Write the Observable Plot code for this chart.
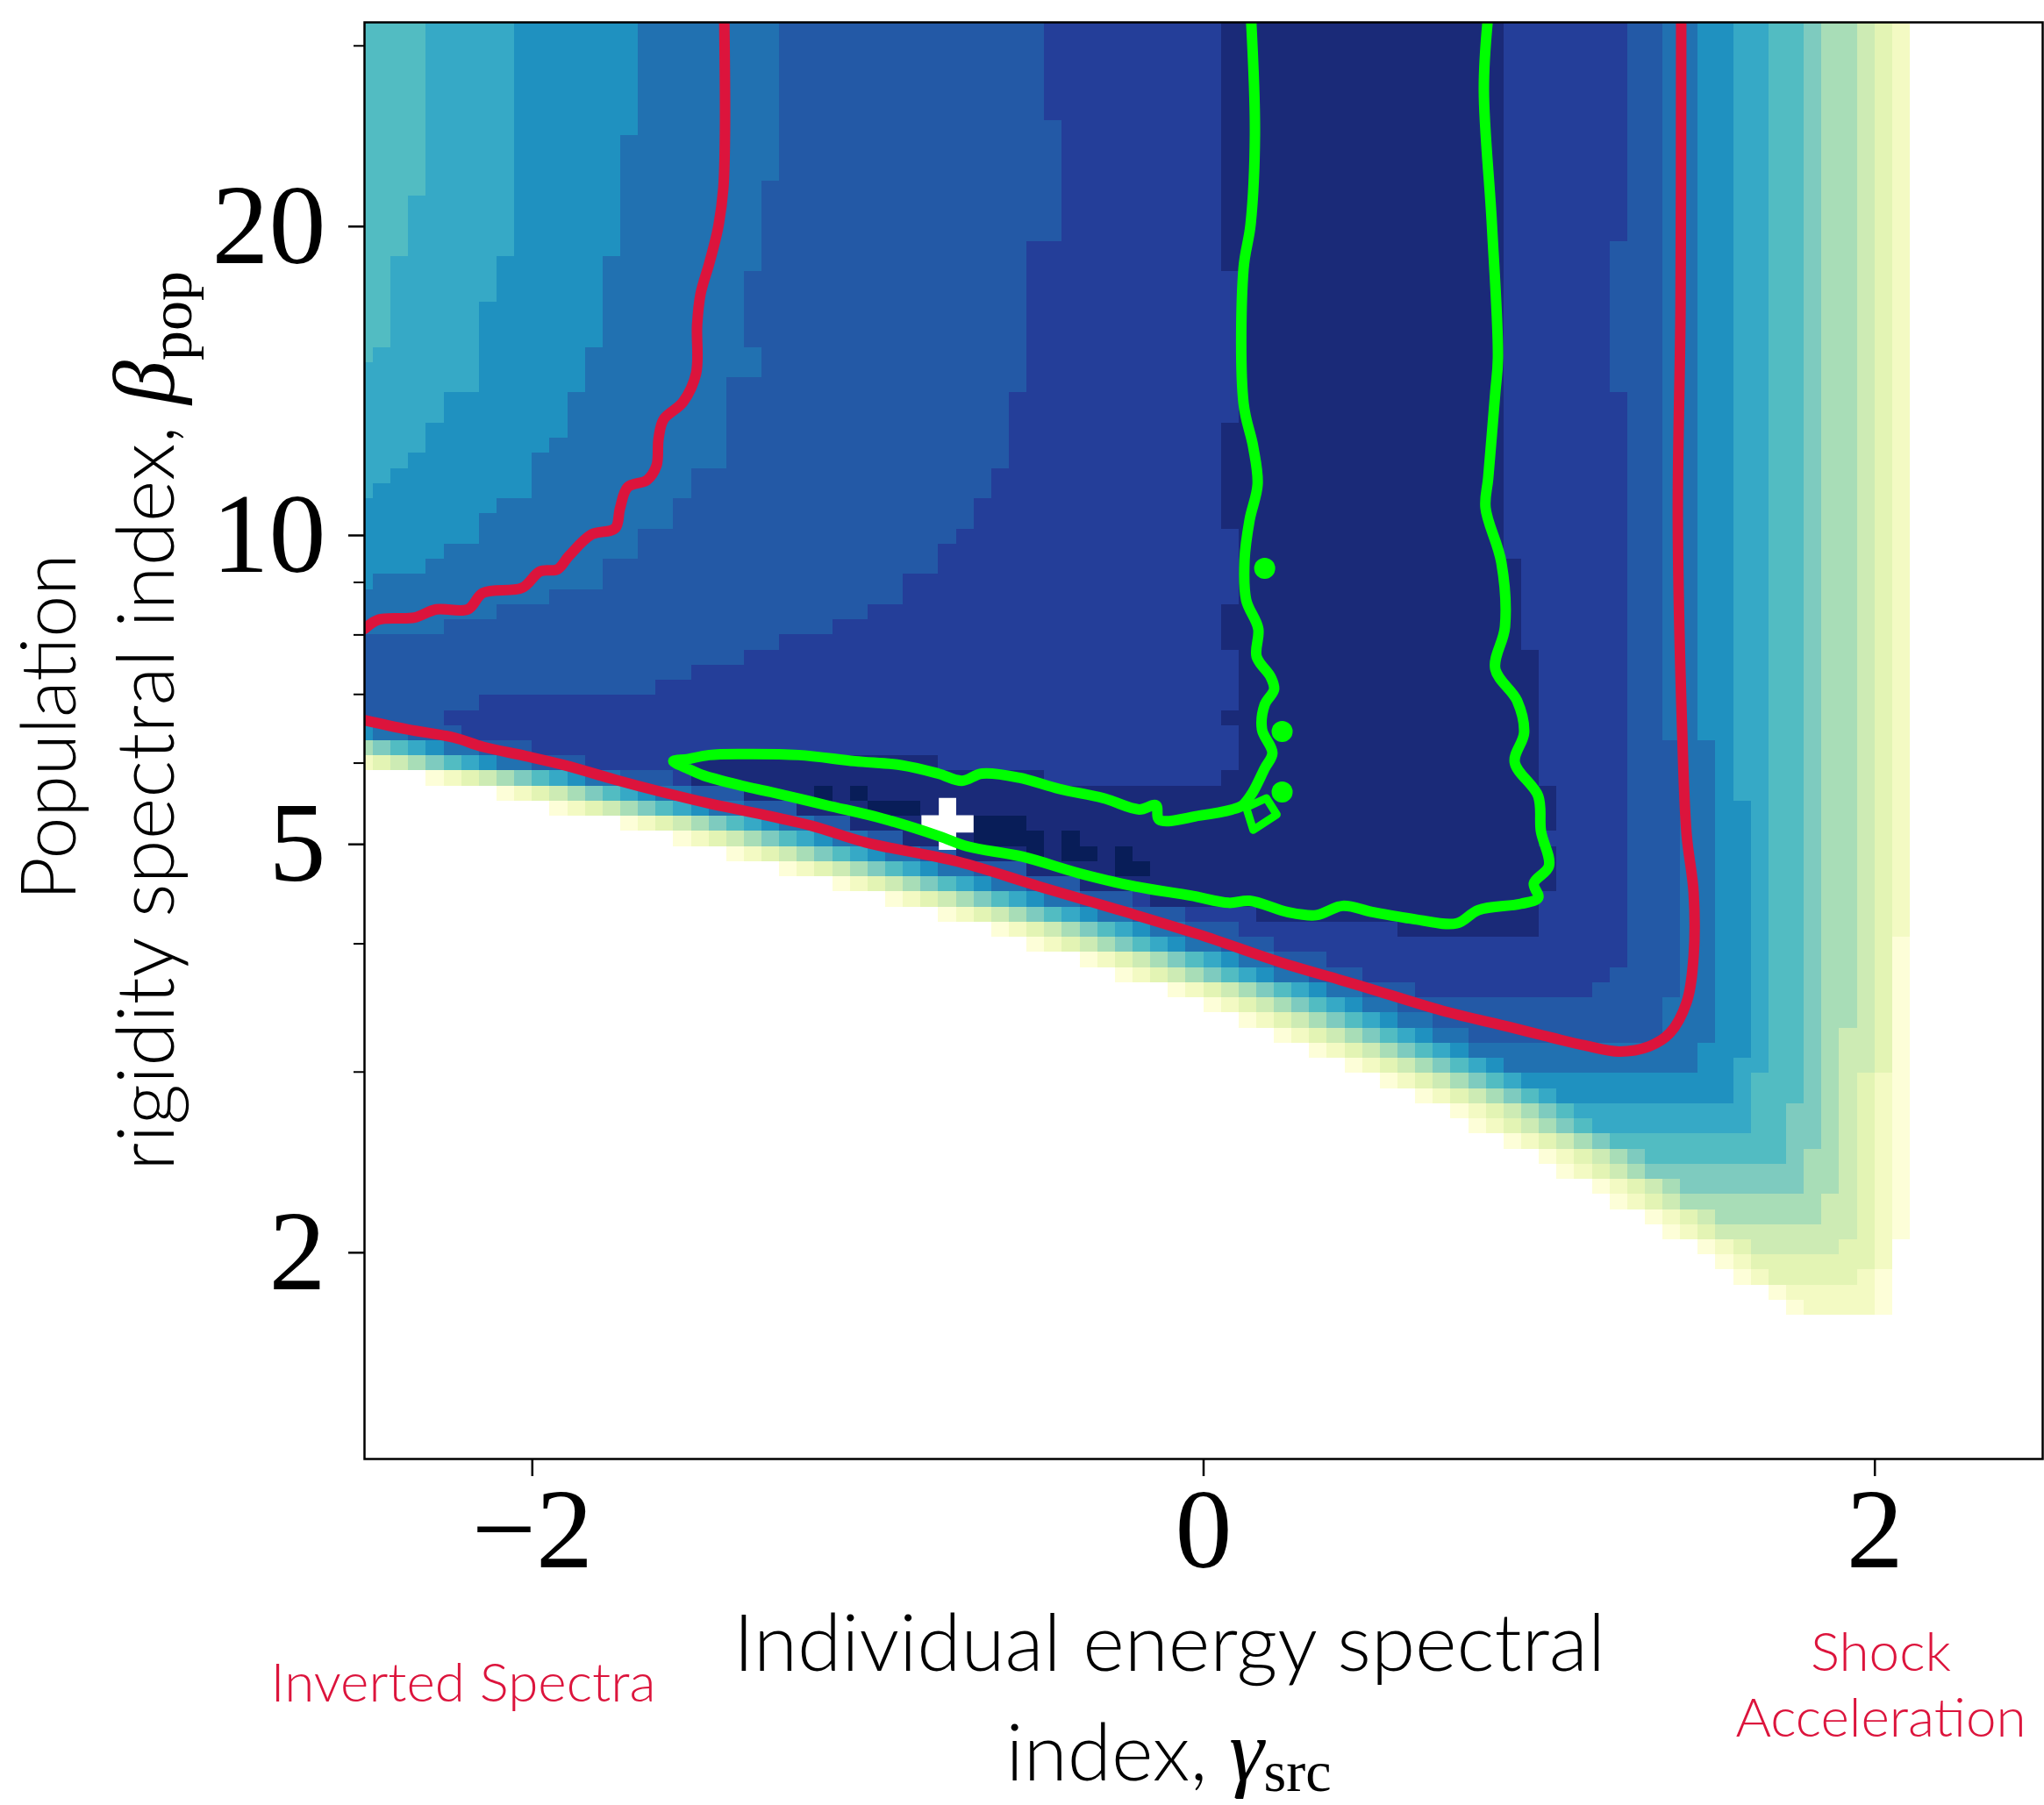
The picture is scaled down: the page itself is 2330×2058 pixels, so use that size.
<!DOCTYPE html>
<html>
<head>
<meta charset="utf-8">
<script src="https://cdn.jsdelivr.net/npm/d3@7"></script>
<script src="https://cdn.jsdelivr.net/npm/@observablehq/plot@0.6"></script>
<style>
html,body{margin:0;padding:0;background:#fff;overflow:hidden;}
#fig{position:relative;width:2330px;height:2058px;overflow:hidden;background:#fff;}
#chart{position:absolute;left:0;top:0;}
#labels{position:absolute;left:0;top:0;}
</style>
</head>
<body>
<div id="fig">
  <div id="chart"></div>
  <svg id="labels" width="2330" height="2058" xmlns="http://www.w3.org/2000/svg">
    <g font-family="Lato, 'Open Sans', sans-serif" font-weight="300" fill="#000">
      <text transform="translate(86,829) rotate(-90)" text-anchor="middle" font-size="86">Population</text>
      <text transform="translate(198,822) rotate(-90)" text-anchor="middle" font-size="91">rigidity spectral index, <tspan font-family="'Liberation Serif', serif" font-style="italic" font-weight="400" font-size="100">β</tspan><tspan font-family="'Liberation Serif', serif" font-weight="400" font-size="68" dy="20">pop</tspan></text>
      <text x="1333" y="1905" text-anchor="middle" font-size="91">Individual energy spectral</text>
      <text x="1332" y="2030" text-anchor="middle" font-size="91">index, <tspan font-family="'Liberation Serif', serif" font-style="italic" font-weight="400" font-size="100">γ</tspan><tspan font-family="'Liberation Serif', serif" font-weight="400" font-size="66" dy="12">src</tspan></text>
    </g>
    <g font-family="Lato, 'Open Sans', sans-serif" font-weight="300" fill="#dc143c" font-size="62" text-anchor="middle">
      <text x="528" y="1940">Inverted Spectra</text>
      <text x="2144" y="1905">Shock</text>
      <text x="2144" y="1980">Acceleration</text>
    </g>
  </svg>
</div>
<script>
// ---------- colour levels of the map (0 = best, darkest) ----------
const levelColors = ["#081d58","#1a2a78","#243e99","#2359a6","#2171b1","#1f91c0","#36a9c6","#52bcc2","#7ecbbf","#a8ddb7","#cdebb4","#e3f4b4","#f3fac3","#fdfed8"];

// ---------- the 96 x 96 grid of the map ----------
const gammaRange = [-2.5, 2.5];          // first / last column centre
const log10BetaRange = [1.5, 0.1];       // top row / bottom row centre
const nCells = 96;

// lower-left edge of the coloured area: first coloured column of rows 44..85
const edgeFirstRow = 44;
const edgeStartCol = [-19,-15,-11,-8,-4,-1,
  4,8,11,15,18,21,24,27,30,33,36,38,41,43,46,48,50,52,54,56,58,60,62,63,65,67,68,70,71,73,74,76,77,78,80,81];

// each level region starts this many cells to the right of that edge
const levelOffset = {13:0, 12:1, 11:2, 10:3, 9:4, 8:5, 7:6, 6:7, 5:8, 4:9, 3:11, 2:14};
// last row reached by each level region
const levelLastRow = {13:85, 12:85, 11:83, 10:81, 9:79, 8:77, 7:75, 6:73, 5:71, 4:69, 3:67, 2:64};
// right-most column of each level region: [from row, column]
const levelRightCol = {
  13: [[0,87],[81,86]],
  12: [[0,87],[61,86],[83,85]],
  11: [[0,86],[70,85],[83,84]],
  10: [[0,85],[70,84],[81,83]],
  9:  [[0,84],[67,83],[78,82]],
  8:  [[0,82],[75,81]],
  7:  [[0,81],[72,80]],
  6:  [[0,79],[70,78]],
  5:  [[0,77],[52,78],[69,77]],
  4:  [[0,75],[48,76],[68,75]],
  3:  [[0,73],[48,74],[65,73]],
  2:  [[0,71],[15,70],[25,71],[63,70],[64,69]]
};
// left-most column of the upper-left staircases: [from row, column]
const levelLeftCol = {
  6: [[0,4],[12,3],[16,2],[22,1],[23,0]],
  5: [[0,9],[16,8],[19,7],[25,5],[27,4],[29,3],[30,2],[31,1],[32,0]],
  4: [[0,16],[8,15],[16,14],[22,13],[25,12],[28,11],[29,10],[32,8],[33,7],[35,5],[36,4],[37,1],[38,0]],
  3: [[0,24],[11,23],[17,22],[22,23],[24,21],[30,19],[32,18],[34,16],[36,14],[38,11],[39,8],[40,5],[41,0]],
  2: [[0,39],[7,40],[15,38],[25,37],[30,36],[32,35],[34,34],[35,33],[37,31],[39,29],[40,27],[41,24],[42,22],[43,19],[44,17],[45,7],[46,5]]
};
// level 1 (navy) as column runs: [first col, last col, first row, last row]
const navyRuns = [
  [19,21,49,50],[22,24,49,51],[25,27,49,52],[28,30,49,53],[31,32,49,54],[33,33,50,54],[34,37,50,55],
  [38,38,50,56],[39,40,51,56],[41,44,51,57],[45,48,51,58],
  [49,49,0,16],[49,49,27,33],[49,49,39,41],[49,49,46,46],[49,49,50,58],
  [50,50,0,58],[51,58,0,59],[59,64,0,60],[65,65,36,60],[66,66,42,60],
  [67,67,51,53],[67,67,55,57]
];
// level 0 (darkest) cells
const darkestRuns = [[26,26,51,51],[28,28,51,51],[29,31,52,52],[35,37,53,54],[38,38,54,55],[40,40,54,55],[41,41,55,55],[43,43,55,56],[44,44,56,56]];

// best fit marker
const bestFit = [{gamma: -0.763, beta: 5.235}];

// contours: [gamma, log10 beta]
const redUpper = [[-1.428,1.500],[-1.426,1.393],[-1.431,1.338],[-1.447,1.299],[-1.473,1.265],[-1.499,1.235],[-1.509,1.205],[-1.512,1.158],[-1.551,1.130],[-1.609,1.113],[-1.624,1.094],[-1.630,1.068],[-1.658,1.054],[-1.716,1.047],[-1.739,1.026],[-1.753,1.007],[-1.823,1.001],[-1.891,0.980],[-1.925,0.967],[-1.977,0.965],[-2.030,0.949],[-2.147,0.944],[-2.192,0.928],[-2.286,0.928],[-2.351,0.920],[-2.458,0.918],[-2.500,0.909]];
const redLower = [[-2.500,0.820],[-2.372,0.811],[-2.233,0.803],[-2.147,0.794],[-2.019,0.785],[-1.902,0.776],[-1.753,0.762],[-1.614,0.750],[-1.475,0.739],[-1.327,0.729],[-1.167,0.717],[-1.008,0.701],[-0.731,0.682],[-0.490,0.658],[-0.252,0.635],[-0.012,0.611],[0.229,0.584],[0.469,0.561],[0.710,0.537],[0.911,0.521],[1.008,0.513],[1.136,0.503],[1.238,0.497],[1.327,0.502],[1.389,0.515],[1.439,0.545],[1.460,0.590],[1.460,0.652],[1.439,0.709],[1.426,0.808],[1.413,1.015],[1.421,1.222],[1.423,1.500]];
const greenPath = [[0.142,1.500],[0.153,1.391],[0.140,1.303],[0.119,1.260],[0.119,1.129],[0.148,1.086],[0.161,1.050],[0.137,1.015],[0.122,0.976],[0.127,0.937],[0.163,0.909],[0.158,0.882],[0.200,0.862],[0.210,0.850],[0.182,0.835],[0.174,0.811],[0.205,0.788],[0.182,0.773],[0.145,0.749],[0.116,0.737],[0.085,0.733],[-0.012,0.727],[-0.132,0.723],[-0.142,0.737],[-0.192,0.733],[-0.299,0.744],[-0.430,0.753],[-0.550,0.764],[-0.660,0.768],[-0.720,0.761],[-0.791,0.768],[-0.898,0.776],[-1.039,0.780],[-1.206,0.786],[-1.374,0.787],[-1.473,0.786],[-1.538,0.782],[-1.580,0.780],[-1.538,0.773],[-1.489,0.766],[-1.374,0.756],[-1.290,0.750],[-1.123,0.737],[-0.955,0.724],[-0.788,0.707],[-0.704,0.697],[-0.540,0.687],[-0.373,0.671],[-0.205,0.658],[-0.038,0.649],[0.075,0.642],[0.137,0.644],[0.250,0.633],[0.336,0.630],[0.414,0.639],[0.503,0.633],[0.629,0.626],[0.754,0.622],[0.819,0.635],[0.945,0.641],[0.997,0.647],[0.984,0.661],[1.029,0.678],[1.005,0.712],[0.997,0.746],[0.927,0.779],[0.955,0.808],[0.934,0.839],[0.869,0.870],[0.898,0.911],[0.887,0.974],[0.840,1.027],[0.848,1.056],[0.869,1.139],[0.877,1.173],[0.859,1.303],[0.835,1.434],[0.846,1.500]];
const greenLoop = [[0.127,0.735],[0.148,0.713],[0.218,0.728],[0.187,0.744],[0.127,0.735]];
const greenBlobs = [[0.182,0.968],[0.234,0.809],[0.234,0.750]];

// axis ticks
const xTicks = [-2, 0, 2];
const yTicks = [2, 5, 10, 20];
const yMinorTicks = [3, 4, 6, 7, 8, 9, 30];

// ---------- build cells ----------
const gammaAt = u => gammaRange[0] + u * (gammaRange[1] - gammaRange[0]) / (nCells - 1);
const betaAt = v => 10 ** (log10BetaRange[0] + v * (log10BetaRange[1] - log10BetaRange[0]) / (nCells - 1));
function runValue(runs, r) { let v = runs[0][1]; for (const [r0, c] of runs) if (r >= r0) v = c; return v; }

const cells = [];
for (let k = 13; k >= 2; k--) {
  for (let r = 0; r <= levelLastRow[k]; r++) {
    const edge = r < edgeFirstRow ? -Infinity : edgeStartCol[r - edgeFirstRow];
    const stair = levelLeftCol[k] ? runValue(levelLeftCol[k], r) : 0;
    const left = Math.max(0, stair, edge + levelOffset[k]);
    const right = runValue(levelRightCol[k], r);
    if (left <= right) cells.push({level: k, c1: left, c2: right, r1: r, r2: r});
  }
}
for (const [c1, c2, r1, r2] of navyRuns) cells.push({level: 1, c1, c2, r1, r2});
for (const [c1, c2, r1, r2] of darkestRuns) cells.push({level: 0, c1, c2, r1, r2});

const toPt = d => ({g: d[0], b: 10 ** d[1]});
const fmtX = d => d < 0 ? "\u2212" + (-d) : String(d);

const chart = Plot.plot({
  width: 2330,
  height: 2058,
  marginTop: 25,
  marginLeft: 415,
  marginRight: 2,
  marginBottom: 395,
  x: {domain: gammaRange},
  y: {type: "log", domain: [10 ** log10BetaRange[1], 10 ** log10BetaRange[0]]},
  color: {type: "ordinal", domain: d3.range(levelColors.length), range: levelColors},
  style: {fontFamily: "'Liberation Serif', 'DejaVu Serif', serif", fontSize: "130px", background: "white", color: "black", overflow: "visible"},
  marks: [
    Plot.rect(cells, {
      x1: d => gammaAt(d.c1 - 0.5), x2: d => gammaAt(d.c2 + 0.5),
      y1: d => betaAt(d.r1 - 0.5), y2: d => betaAt(d.r2 + 0.5),
      fill: "level", inset: 0, clip: true, shapeRendering: "crispEdges"
    }),
    Plot.dot(bestFit, {x: "gamma", y: "beta", symbol: "cross", r: 25, fill: "white", stroke: null}),
    Plot.line(redUpper.map(toPt), {x: "g", y: "b", stroke: "#dc143c", strokeWidth: 12, curve: "catmull-rom", clip: true, strokeLinejoin: "round"}),
    Plot.line(redLower.map(toPt), {x: "g", y: "b", stroke: "#dc143c", strokeWidth: 12, curve: "catmull-rom", clip: true, strokeLinejoin: "round"}),
    Plot.line(greenPath.map(toPt), {x: "g", y: "b", stroke: "#00ff00", strokeWidth: 12, curve: "catmull-rom", clip: true, strokeLinejoin: "round"}),
    Plot.line(greenLoop.map(toPt), {x: "g", y: "b", stroke: "#00ff00", strokeWidth: 9, curve: "linear", strokeLinejoin: "round"}),
    Plot.dot(greenBlobs.map(toPt), {x: "g", y: "b", r: 12, fill: "#00ff00", stroke: null}),
    Plot.axisX({ticks: xTicks, tickSize: 20, tickPadding: 11, tickFormat: fmtX, label: null, strokeWidth: 2.5, fontSize: 130}),
    Plot.axisY({ticks: yTicks, tickSize: 18, tickPadding: 26, tickFormat: d => String(d), label: null, strokeWidth: 2.5, fontSize: 130}),
    Plot.axisY({ticks: yMinorTicks, tickSize: 12, tickFormat: () => "", label: null, strokeWidth: 2}),
    Plot.frame({stroke: "black", strokeWidth: 2.5})
  ]
});
document.getElementById("chart").appendChild(chart);
</script>
</body>
</html>
